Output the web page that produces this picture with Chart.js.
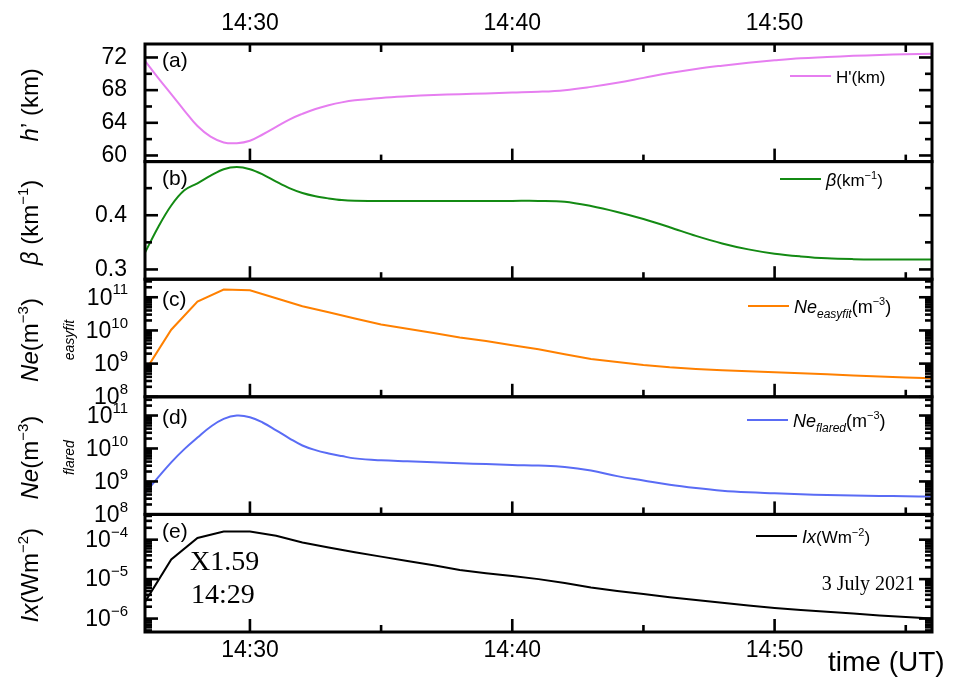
<!DOCTYPE html>
<html>
<head>
<meta charset="utf-8">
<title>Flare response, 3 July 2021</title>
<script src="https://cdn.jsdelivr.net/npm/chart.js@4.4.1/dist/chart.umd.min.js"></script>
<style>
    html, body { margin: 0; padding: 0; background: #fff; }
    canvas { display: block; }
</style>
</head>
<body>
<canvas id="flareChart" width="961" height="678"></canvas>
<script>
// time axis in minutes after 14:00 UT
const fineTimes = [26, 26.5, 27, 27.5, 28, 28.5, 29, 29.5, 30, 30.5, 31, 31.5, 32, 32.5, 33, 33.5, 34,
    35, 36, 37, 38, 39, 40, 41, 42, 43, 44, 45, 46, 47, 48, 49, 50, 51, 52, 53, 54, 55, 56];
const minuteTimes = [26, 27, 28, 29, 30, 31, 32, 33, 34, 35, 36, 37, 38, 39, 40, 41,
    42, 43, 44, 45, 46, 47, 48, 49, 50, 51, 52, 53, 54, 55, 56];

// (a) reflection height h' (km), on fineTimes
const heightKm = [71.6, 69.5, 67.5, 65.5, 63.6, 62.3, 61.6, 61.5, 61.8, 62.6, 63.5, 64.4, 65.1, 65.7, 66.15, 66.5, 66.75,
    67.05, 67.25, 67.4, 67.5, 67.6, 67.7, 67.8, 68.0, 68.4, 68.9, 69.5, 70.1, 70.6, 71.0, 71.35, 71.65, 71.9, 72.05, 72.2, 72.3, 72.4, 72.45];
// (b) sharpness beta (km^-1), on fineTimes
const betaKm = [0.331, 0.378, 0.418, 0.446, 0.459, 0.473, 0.485, 0.489, 0.485, 0.475, 0.462, 0.450, 0.441, 0.435, 0.431, 0.428, 0.4268,
    0.4265, 0.4265, 0.4265, 0.4265, 0.4265, 0.4265, 0.4265, 0.425, 0.417, 0.406, 0.393, 0.378, 0.362, 0.348, 0.337, 0.329,
    0.324, 0.3205, 0.319, 0.3185, 0.3185, 0.3185];
// (c) Ne easyfit (m^-3), on minuteTimes
const neEasyfit = [5.89e8, 1.05e10, 7.41e10, 1.70e11, 1.62e11, 9.33e10, 5.37e10, 3.55e10, 2.29e10, 1.51e10, 1.12e10,
    8.32e9, 6.17e9, 4.79e9, 3.55e9, 2.69e9, 1.91e9, 1.38e9, 1.12e9, 9.12e8, 7.76e8, 6.92e8, 6.31e8, 5.89e8, 5.50e8,
    5.13e8, 4.79e8, 4.37e8, 4.07e8, 3.80e8, 3.63e8];
// (d) Ne flared (m^-3), on fineTimes
const neFlared = [4.37e8, 1.32e9, 3.80e9, 9.55e9, 2.14e10, 4.57e10, 7.94e10, 1.0e11, 8.91e10, 6.03e10, 3.55e10, 2.04e10,
    1.23e10, 8.91e9, 7.08e9, 5.89e9, 5.01e9, 4.37e9, 4.07e9, 3.80e9, 3.55e9, 3.39e9, 3.16e9, 3.02e9, 2.75e9, 2.14e9,
    1.45e9, 1.07e9, 7.94e8, 6.31e8, 5.25e8, 4.68e8, 4.37e8, 4.07e8, 3.89e8, 3.72e8, 3.63e8, 3.55e8, 3.47e8];
// (e) X-ray flux Ix (W m^-2), on minuteTimes
const xrayFlux = [2.63e-6, 3.16e-5, 1.10e-4, 1.60e-4, 1.60e-4, 1.26e-4, 8.51e-5, 6.31e-5, 4.79e-5, 3.72e-5, 2.88e-5,
    2.24e-5, 1.70e-5, 1.41e-5, 1.20e-5, 1.0e-5, 7.94e-6, 6.17e-6, 5.01e-6, 4.17e-6, 3.47e-6, 2.95e-6, 2.51e-6,
    2.14e-6, 1.86e-6, 1.66e-6, 1.48e-6, 1.35e-6, 1.20e-6, 1.10e-6, 1.0e-6];

const timeTicks = [30, 35, 40, 45, 50, 55];
const timeLabels = [30, 40, 50];
const heightTicks = [60, 62, 64, 66, 68, 70, 72];
const heightLabels = [60, 64, 68, 72];
const betaTicks = [0.3, 0.35, 0.4, 0.45];
const betaLabels = [0.3, 0.4];
const panelLetters = ["(a)", "(b)", "(c)", "(d)", "(e)"];

const SANS = '"Liberation Sans", Arial, sans-serif';
const SERIF = '"Liberation Serif", "Times New Roman", serif';
const panelAxes = ["yA", "yB", "yC", "yD", "yE"];
const colors = ["#e67ef0", "#138a13", "#ff8000", "#5a6cf5", "#000000"];

function toPoints(times, values) {
    return times.map((t, i) => ({ x: t, y: values[i] }));
}

function isPowerOfTen(v) {
    const l = Math.log10(v);
    return Math.abs(l - Math.round(l)) < 1e-6;
}

function logTicks(scale) {
    const ticks = [];
    const lo = Math.floor(Math.log10(scale.min));
    const hi = Math.ceil(Math.log10(scale.max));
    for (let e = lo; e <= hi; e++) {
        for (let m = 1; m <= 9; m++) {
            const v = m * Math.pow(10, e);
            if (v >= scale.min * 0.999 && v <= scale.max * 1.001) ticks.push({ value: v });
        }
    }
    scale.ticks = ticks;
}

function isMajor(id, v) {
    if (id === "yA") return heightLabels.includes(v);
    if (id === "yB") return betaLabels.includes(v);
    return isPowerOfTen(v);
}

function fontOf(p) {
    return (p.italic ? "italic " : "") + (p.size || 24) + "px " + SANS;
}

// draws a run of text pieces with different fonts / raised or lowered parts
function drawRich(ctx, parts, x, y, align) {
    const widths = parts.map(p => { ctx.font = fontOf(p); return ctx.measureText(p.t).width; });
    const total = widths.reduce((a, b) => a + b, 0);
    let cx = align === "center" ? x - total / 2 : (align === "right" ? x - total : x);
    ctx.textAlign = "left";
    parts.forEach((p, i) => {
        ctx.font = fontOf(p);
        ctx.fillText(p.t, cx, y + (p.dy || 0));
        cx += widths[i];
    });
}

function line(ctx, x1, y1, x2, y2) {
    ctx.beginPath();
    ctx.moveTo(x1, y1);
    ctx.lineTo(x2, y2);
    ctx.stroke();
}

const yTitles = [
    [{ t: "h", italic: true }, { t: "\u2019 (km)" }],
    [{ t: "\u03b2", italic: true }, { t: " (km" }, { t: "\u22121", size: 15, dy: -10 }, { t: ")" }],
    [{ t: "Ne", italic: true }, { t: "(m" }, { t: "\u22123", size: 15, dy: -10 }, { t: ")" }],
    [{ t: "Ne", italic: true }, { t: "(m" }, { t: "\u22123", size: 15, dy: -10 }, { t: ")" }],
    [{ t: "Ix", italic: true }, { t: "(Wm" }, { t: "\u22122", size: 15, dy: -10 }, { t: ")" }]
];
const ySubTitles = ["", "", "easyfit", "flared", ""];

const legendItems = [
    [{ t: "H'(km)", size: 17 }],
    [{ t: "\u03b2", italic: true, size: 18 }, { t: "(km", size: 17 }, { t: "\u22121", size: 11, dy: -7 }, { t: ")", size: 17 }],
    [{ t: "Ne", italic: true, size: 18 }, { t: "easyfit", italic: true, size: 12, dy: 5 }, { t: "(m", size: 18 }, { t: "\u22123", size: 11, dy: -8 }, { t: ")", size: 18 }],
    [{ t: "Ne", italic: true, size: 18 }, { t: "flared", italic: true, size: 12, dy: 5 }, { t: "(m", size: 18 }, { t: "\u22123", size: 11, dy: -8 }, { t: ")", size: 18 }],
    [{ t: "Ix", italic: true, size: 18 }, { t: "(Wm", size: 17 }, { t: "\u22122", size: 11, dy: -7 }, { t: ")", size: 17 }]
];
const legendPos = [[790, 76], [780, 179], [748, 306], [747, 420], [756, 536]];
const letterBaselines = [66.5, 184.5, 306, 424, 538];

const panelDecor = {
    id: "panelDecor",
    afterDraw(chart) {
        const ctx = chart.ctx;
        const area = chart.chartArea;
        const xs = chart.scales.x;
        ctx.save();
        ctx.strokeStyle = "#000";
        ctx.fillStyle = "#000";
        ctx.lineCap = "butt";

        panelAxes.forEach((id, i) => {
            const s = chart.scales[id];
            ctx.lineWidth = 2.6;
            s.ticks.forEach(t => {
                const y = s.getPixelForValue(t.value);
                if (y < s.top - 0.5 || y > s.bottom + 0.5) return;
                const len = isMajor(id, t.value) ? 13 : 7;
                line(ctx, area.left, y, area.left + len, y);
                line(ctx, area.right - len, y, area.right, y);
                if (s.type === "logarithmic" && isPowerOfTen(t.value)) {
                    const e = Math.round(Math.log10(t.value));
                    ctx.textBaseline = "middle";
                    const exp = (e < 0 ? "\u2212" : "") + Math.abs(e);
                    drawRich(ctx, [{ t: "10", size: 23 }, { t: exp, size: 15, dy: -8 }], area.left - 17, y + 1, "right");
                }
            });
            xs.ticks.forEach(t => {
                const x = xs.getPixelForValue(t.value);
                const len = timeLabels.includes(t.value) ? 13 : 7;
                line(ctx, x, s.bottom, x, s.bottom - len);
            });
            ctx.lineWidth = 3;
            ctx.strokeRect(area.left, s.top, area.right - area.left, s.bottom - s.top);

            // axis title, rotated
            const cy = (s.top + s.bottom) / 2 + 2;
            ctx.save();
            ctx.translate(38, cy);
            ctx.rotate(-Math.PI / 2);
            ctx.textBaseline = "alphabetic";
            drawRich(ctx, yTitles[i], 0, 0, "center");
            if (ySubTitles[i]) {
                ctx.restore();
                ctx.save();
                ctx.translate(70, cy);
                ctx.rotate(-Math.PI / 2);
                drawRich(ctx, [{ t: ySubTitles[i], italic: true, size: 14 }], 0, 0, "center");
            }
            ctx.restore();

            // panel letter
            ctx.textBaseline = "alphabetic";
            drawRich(ctx, [{ t: panelLetters[i], size: 21 }], 162, letterBaselines[i], "left");

            // legend sample + label
            const [lx, ly] = legendPos[i];
            ctx.strokeStyle = colors[i];
            ctx.lineWidth = 2;
            line(ctx, lx, ly, lx + 41, ly);
            ctx.strokeStyle = "#000";
            drawRich(ctx, legendItems[i], lx + 46, ly + 6.5, "left");
        });

        // ticks along the top axis
        ctx.lineWidth = 2.6;
        xs.ticks.forEach(t => {
            const x = xs.getPixelForValue(t.value);
            line(ctx, x, area.top, x, area.top + 8);
        });

        // annotations
        ctx.textBaseline = "alphabetic";
        ctx.textAlign = "left";
        ctx.font = "28px " + SERIF;
        ctx.fillText("X1.59", 190, 570);
        ctx.fillText("14:29", 191, 603);
        ctx.font = "20px " + SERIF;
        ctx.textAlign = "right";
        ctx.fillText("3 July 2021", 915, 590);

        ctx.textAlign = "left";
        ctx.font = "28px " + SANS;
        ctx.fillText("time (UT)", 828, 671);
        ctx.restore();
    }
};

function timeAxis(position, pad, height) {
    return {
        type: "linear",
        position: position,
        min: 26,
        max: 56,
        grid: { display: false, drawTicks: false },
        border: { display: false },
        afterBuildTicks: s => { s.ticks = timeTicks.map(v => ({ value: v })); },
        afterFit: s => { s.height = height; },
        ticks: {
            padding: pad,
            maxRotation: 0,
            autoSkip: false,
            color: "#000",
            font: { size: 23, family: SANS },
            callback: v => timeLabels.includes(v) ? "14:" + v : ""
        }
    };
}

function panelAxis(type, min, max, weight, buildTicks, labelFn) {
    return {
        type: type,
        position: "left",
        stack: "panels",
        stackWeight: 1,
        weight: weight,
        min: min,
        max: max,
        grid: { display: false, drawTicks: false },
        border: { display: false },
        afterBuildTicks: buildTicks,
        afterFit: s => { s.width = 145; },
        ticks: {
            padding: 18,
            autoSkip: false,
            color: "#000",
            font: { size: 23, family: SANS },
            callback: labelFn
        }
    };
}

const datasets = [
    { label: "H'(km)", yAxisID: "yA", data: toPoints(fineTimes, heightKm), tension: 0.4 },
    { label: "beta", yAxisID: "yB", data: toPoints(fineTimes, betaKm), tension: 0.35 },
    { label: "Ne easyfit", yAxisID: "yC", data: toPoints(minuteTimes, neEasyfit), tension: 0 },
    { label: "Ne flared", yAxisID: "yD", data: toPoints(fineTimes, neFlared), tension: 0.4 },
    { label: "Ix", yAxisID: "yE", data: toPoints(minuteTimes, xrayFlux), tension: 0 }
].map((d, i) => Object.assign(d, {
    xAxisID: "x",
    borderColor: colors[i],
    borderWidth: 2,
    pointRadius: 0,
    fill: false
}));

new Chart(document.getElementById("flareChart"), {
    type: "line",
    data: { datasets: datasets },
    options: {
        responsive: false,
        animation: false,
        layout: { padding: { top: 0, left: 0, right: 29, bottom: 0 } },
        plugins: {
            legend: { display: false },
            tooltip: { enabled: false }
        },
        scales: {
            x: timeAxis("bottom", 5, 46),
            x2: timeAxis("top", 7, 44),
            yA: panelAxis("linear", 59.25, 73.65, 5,
                s => { s.ticks = heightTicks.map(v => ({ value: v })); },
                v => heightLabels.includes(v) ? String(v) : ""),
            yB: panelAxis("linear", 0.282, 0.499, 4,
                s => { s.ticks = betaTicks.map(v => ({ value: v })); },
                v => betaLabels.includes(v) ? v.toFixed(1) : ""),
            yC: panelAxis("logarithmic", 1e8, 3.5e11, 3, logTicks, () => ""),
            yD: panelAxis("logarithmic", 1e8, 3.7e11, 2, logTicks, () => ""),
            yE: panelAxis("logarithmic", 4.57e-7, 4.37e-4, 1, logTicks, () => "")
        }
    },
    plugins: [panelDecor]
});
</script>
</body>
</html>
